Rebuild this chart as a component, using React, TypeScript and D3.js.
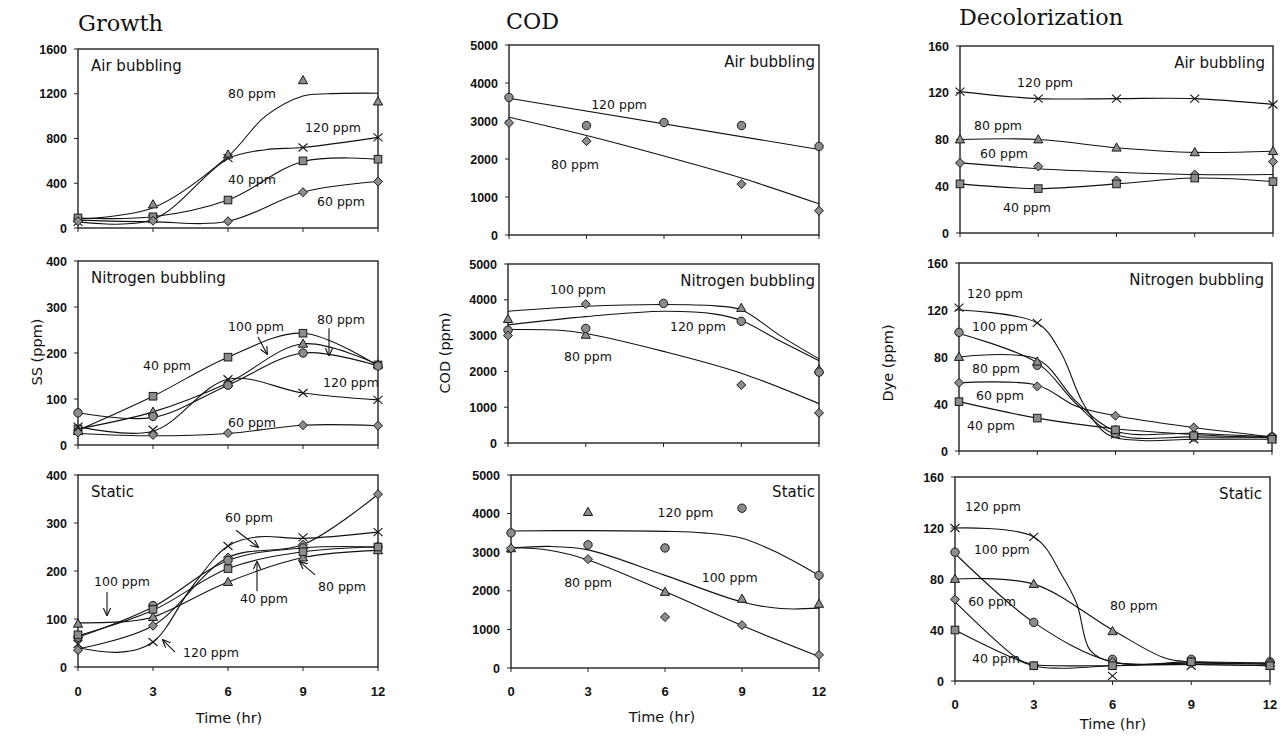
import React from 'react';
import * as d3 from 'd3';

type Pt = [number, number];
type Mk = 'tri' | 'sq' | 'dia' | 'circ' | 'x';
interface Series { marker: Mk; points: (number | null)[]; curve: Pt[] }
interface Label { text: string; t: number; v: number }
interface Arrow { from: Pt; to: Pt }

// ---------- shared categories / ticks ----------
const times = [0, 3, 6, 9, 12];
const xTickLabels = ['0', '3', '6', '9', '12'];
const ssAirTicks = [0, 400, 800, 1200, 1600];
const ssTicks = [0, 100, 200, 300, 400];
const codTicks = [0, 1000, 2000, 3000, 4000, 5000];
const dyeTicks = [0, 40, 80, 120, 160];
const columnTitles = ['Growth', 'COD', 'Decolorization'];
const yAxisTitles = ['SS (ppm)', 'COD (ppm)', 'Dye (ppm)'];
const conditions = ['Air bubbling', 'Nitrogen bubbling', 'Static'];
const xAxisTitle = 'Time (hr)';

// ---------- Growth (SS) ----------
const growthAir: Series[] = [
  { marker: 'tri', points: [85, 210, 655, 1320, 1130], curve: [[0, 80], [3, 180], [6, 640], [7.5, 1000], [9, 1180], [10, 1200], [12, 1205]] },
  { marker: 'x', points: [55, 80, 625, 720, 810], curve: [[0, 55], [3, 75], [6, 620], [7.5, 700], [9, 720], [12, 810]] },
  { marker: 'sq', points: [90, 100, 250, 600, 615], curve: [[0, 90], [3, 100], [6, 250], [9, 595], [12, 615]] },
  { marker: 'dia', points: [60, 65, 60, 320, 415], curve: [[0, 70], [3, 55], [6, 60], [9, 320], [12, 415]] },
];
const growthAirLabels: Label[] = [
  { text: '80 ppm', t: 6.0, v: 1162 },
  { text: '120 ppm', t: 9.08, v: 858 },
  { text: '40 ppm', t: 6.0, v: 393 },
  { text: '60 ppm', t: 9.56, v: 197 },
];

const growthN2: Series[] = [
  { marker: 'sq', points: [35, 106, 191, 243, 174], curve: [[0, 32], [3, 106], [6, 191], [9, 243], [12, 172]] },
  { marker: 'tri', points: [30, 72, 135, 220, 175], curve: [[0, 35], [3, 72], [6, 135], [9, 220], [12, 175]] },
  { marker: 'circ', points: [70, 62, 130, 200, 172], curve: [[0, 70], [3, 60], [6, 130], [9, 200], [12, 172]] },
  { marker: 'x', points: [40, 33, 143, 113, 98], curve: [[0, 40], [3, 30], [6, 143], [9, 113], [12, 98]] },
  { marker: 'dia', points: [27, 22, 26, 43, 42], curve: [[0, 25], [3, 20], [6, 25], [9, 43], [12, 42]] },
];
const growthN2Labels: Label[] = [
  { text: '100 ppm', t: 6.0, v: 248 },
  { text: '80 ppm', t: 9.56, v: 263 },
  { text: '40 ppm', t: 2.6, v: 163 },
  { text: '120 ppm', t: 9.8, v: 126 },
  { text: '60 ppm', t: 6.0, v: 39 },
];
const growthN2Arrows: Arrow[] = [
  { from: [7.2, 235], to: [7.56, 198] },
  { from: [10.04, 254], to: [10.04, 195] },
];

const growthStatic: Series[] = [
  { marker: 'x', points: [48, 52, 252, 270, 281], curve: [[0, 40], [1.7, 31], [3, 52], [4.6, 170], [6, 252], [7.2, 271], [9, 268], [12, 281]] },
  { marker: 'dia', points: [35, 86, 228, 255, 360], curve: [[0, 38], [3, 86], [6, 228], [9, 255], [12, 360]] },
  { marker: 'circ', points: [62, 128, 222, 248, 250], curve: [[0, 62], [3, 125], [6, 222], [9, 248], [12, 250]] },
  { marker: 'tri', points: [90, 104, 177, 228, 243], curve: [[0, 92], [2, 95], [3, 104], [6, 177], [9, 228], [12, 243]] },
  { marker: 'sq', points: [67, 120, 205, 240, 250], curve: [[0, 65], [3, 118], [6, 205], [9, 240], [12, 250]] },
];
const growthStaticLabels: Label[] = [
  { text: '60 ppm', t: 5.88, v: 302 },
  { text: '100 ppm', t: 0.64, v: 169 },
  { text: '40 ppm', t: 6.48, v: 133 },
  { text: '80 ppm', t: 9.6, v: 158 },
  { text: '120 ppm', t: 4.2, v: 21 },
];
const growthStaticArrows: Arrow[] = [
  { from: [6.32, 285], to: [7.2, 250] },
  { from: [1.16, 156], to: [1.16, 108] },
  { from: [7.16, 158], to: [7.16, 219] },
  { from: [9.48, 192], to: [8.88, 219] },
  { from: [3.88, 31], to: [3.4, 56] },
];

// ---------- COD ----------
const codAir: Series[] = [
  { marker: 'circ', points: [3620, 2880, 2960, 2880, 2330], curve: [[0, 3600], [12, 2250]] },
  { marker: 'dia', points: [2950, 2470, null, 1340, 640], curve: [[0, 3100], [3, 2620], [6, 2080], [9, 1500], [12, 820]] },
];
const codAirLabels: Label[] = [
  { text: '120 ppm', t: 3.18, v: 3316 },
  { text: '80 ppm', t: 1.63, v: 1737 },
];

const codN2: Series[] = [
  { marker: 'tri', points: [3460, 3020, null, 3770, 2050], curve: [[0, 3680], [3, 3820], [6, 3870], [8, 3830], [9, 3720], [10.5, 3000], [12, 2350]] },
  { marker: 'circ', points: [3150, 3200, 3900, 3400, 1980], curve: [[0, 3300], [3, 3530], [6, 3680], [8, 3600], [9, 3420], [10.5, 2850], [12, 2300]] },
  { marker: 'dia', points: [3000, 3880, null, 1620, 840], curve: [[0, 3170], [2, 3150], [3, 3060], [6, 2560], [9, 1950], [12, 1100]] },
];
const codN2Labels: Label[] = [
  { text: '100 ppm', t: 1.62, v: 4160 },
  { text: '120 ppm', t: 6.25, v: 3128 },
  { text: '80 ppm', t: 2.16, v: 2290 },
];

const codStatic: Series[] = [
  { marker: 'circ', points: [3500, 3190, 3110, 4140, 2400], curve: [[0, 3550], [3, 3560], [6, 3540], [7.5, 3500], [9, 3360], [10.5, 2950], [12, 2400]] },
  { marker: 'tri', points: [3100, 4040, 1970, 1790, 1660], curve: [[0, 3100], [1.5, 3150], [3, 3060], [6, 2400], [9, 1710], [10.5, 1540], [12, 1550]] },
  { marker: 'dia', points: [3100, 2820, 1320, 1110, 340], curve: [[0, 3120], [1.5, 3050], [3, 2800], [6, 1980], [9, 1100], [12, 300]] },
];
const codStaticLabels: Label[] = [
  { text: '120 ppm', t: 5.71, v: 3912 },
  { text: '80 ppm', t: 2.07, v: 2098 },
  { text: '100 ppm', t: 7.43, v: 2228 },
];

// ---------- Decolorization (Dye) ----------
const dyeAir: Series[] = [
  { marker: 'x', points: [121, 115, 115, 115, 110], curve: [[0, 121], [3, 115], [6, 115], [9, 115], [12, 110]] },
  { marker: 'tri', points: [80, 80, 73, 69, 70], curve: [[0, 80], [3, 80], [6, 73], [9, 69], [12, 70]] },
  { marker: 'dia', points: [60, 57, 45, 50, 61], curve: [[0, 60], [3, 55], [6, 52], [9, 50], [12, 50]] },
  { marker: 'sq', points: [42, 38, 42, 47, 44], curve: [[0, 42], [3, 38], [6, 42], [9, 47], [12, 44]] },
];
const dyeAirLabels: Label[] = [
  { text: '120 ppm', t: 2.19, v: 125 },
  { text: '80 ppm', t: 0.54, v: 88 },
  { text: '60 ppm', t: 0.77, v: 64 },
  { text: '40 ppm', t: 1.65, v: 18 },
];

const dyeN2: Series[] = [
  { marker: 'x', points: [122, 109, 14, 10, 10], curve: [[0, 120], [3, 109], [3.9, 84], [4.75, 41], [5.7, 14], [7, 9], [9, 10], [12, 10]] },
  { marker: 'circ', points: [101, 73, 15, 12, 12], curve: [[0, 100], [3, 75], [4.5, 40], [6, 14], [9, 12], [12, 12]] },
  { marker: 'tri', points: [80, 76, 18, 15, 12], curve: [[0, 80], [3, 78], [4.5, 42], [6, 17], [9, 15], [12, 12]] },
  { marker: 'dia', points: [58, 55, 30, 20, 12], curve: [[0, 58], [3, 56], [4.5, 38], [6, 30], [9, 20], [12, 12]] },
  { marker: 'sq', points: [42, 28, 18, 13, 10], curve: [[0, 42], [3, 28], [6, 19], [9, 14], [12, 11]] },
];
const dyeN2Labels: Label[] = [
  { text: '120 ppm', t: 0.31, v: 130 },
  { text: '100 ppm', t: 0.5, v: 102 },
  { text: '80 ppm', t: 0.5, v: 66 },
  { text: '60 ppm', t: 0.65, v: 43 },
  { text: '40 ppm', t: 0.31, v: 18 },
];

const dyeStatic: Series[] = [
  { marker: 'x', points: [120, 113, 4, 12, 12], curve: [[0, 120], [3, 113], [4.1, 82], [4.65, 60], [5.15, 24], [6, 15], [9, 13], [12, 12]] },
  { marker: 'circ', points: [101, 46, 17, 17, 15], curve: [[0, 100], [3, 46], [6, 15], [9, 15], [12, 14]] },
  { marker: 'tri', points: [80, 76, 39, 15, 14], curve: [[0, 80], [3, 76], [6, 40], [8, 18], [9, 15], [12, 14]] },
  { marker: 'dia', points: [64, 12, 15, 14, 14], curve: [[0, 62], [2.5, 16], [3, 13], [6, 12], [9, 13], [12, 12]] },
  { marker: 'sq', points: [40, 12, 12, 15, 12], curve: [[0, 40], [3, 12], [4, 10], [6, 12], [9, 14], [12, 13]] },
];
const dyeStaticLabels: Label[] = [
  { text: '120 ppm', t: 0.38, v: 133 },
  { text: '100 ppm', t: 0.72, v: 100 },
  { text: '60 ppm', t: 0.5, v: 59 },
  { text: '80 ppm', t: 5.9, v: 56 },
  { text: '40 ppm', t: 0.65, v: 14 },
];

// ---------- layout ----------
interface PanelCfg {
  col: number; row: number;
  left: number; right: number; top: number; bottom: number;
  ticks: number[]; series: Series[]; labels: Label[]; arrows: Arrow[];
}
const panels: PanelCfg[] = [
  { col: 0, row: 0, left: 78, right: 378, top: 49, bottom: 228, ticks: ssAirTicks, series: growthAir, labels: growthAirLabels, arrows: [] },
  { col: 0, row: 1, left: 78, right: 378, top: 261, bottom: 445, ticks: ssTicks, series: growthN2, labels: growthN2Labels, arrows: growthN2Arrows },
  { col: 0, row: 2, left: 78, right: 378, top: 475, bottom: 667, ticks: ssTicks, series: growthStatic, labels: growthStaticLabels, arrows: growthStaticArrows },
  { col: 1, row: 0, left: 509, right: 819, top: 45, bottom: 235, ticks: codTicks, series: codAir, labels: codAirLabels, arrows: [] },
  { col: 1, row: 1, left: 508, right: 819, top: 264, bottom: 443, ticks: codTicks, series: codN2, labels: codN2Labels, arrows: [] },
  { col: 1, row: 2, left: 511, right: 819, top: 475, bottom: 668, ticks: codTicks, series: codStatic, labels: codStaticLabels, arrows: [] },
  { col: 2, row: 0, left: 960, right: 1273, top: 46, bottom: 233, ticks: dyeTicks, series: dyeAir, labels: dyeAirLabels, arrows: [] },
  { col: 2, row: 1, left: 959, right: 1272, top: 263, bottom: 451, ticks: dyeTicks, series: dyeN2, labels: dyeN2Labels, arrows: [] },
  { col: 2, row: 2, left: 955, right: 1270, top: 477, bottom: 681, ticks: dyeTicks, series: dyeStatic, labels: dyeStaticLabels, arrows: [] },
];
const titlePos = [
  { x: 78, y: 31, w: 85 },
  { x: 506, y: 29, w: 53 },
  { x: 959, y: 25, w: 164 },
];
const yTitlePos = [
  { x: 38, y: 352 },
  { x: 446, y: 353 },
  { x: 889, y: 363 },
];
const xLabelBase = [696, 696, 709];
const xTitlePos = [
  { x: 229, y: 723 },
  { x: 662, y: 722 },
  { x: 1113, y: 729 },
];

const SANS = '"DejaVu Sans", Verdana, sans-serif';
const TICKFONT = '"Liberation Sans", Arial, sans-serif';
const SERIF = '"DejaVu Serif", "Liberation Serif", serif';
const MFILL = '#8c8c8c';
const MSTROKE = '#1a1a1a';

function Marker({ type, cx, cy }: { type: Mk; cx: number; cy: number }) {
  if (type === 'tri') {
    return <path d={`M${cx},${cy - 4.8}L${cx + 4.6},${cy + 3.4}L${cx - 4.6},${cy + 3.4}Z`} fill={MFILL} stroke={MSTROKE} strokeWidth={1} />;
  }
  if (type === 'sq') {
    return <rect x={cx - 3.8} y={cy - 3.8} width={7.6} height={7.6} fill={MFILL} stroke={MSTROKE} strokeWidth={1} />;
  }
  if (type === 'dia') {
    return <path d={`M${cx},${cy - 4.5}L${cx + 4.5},${cy}L${cx},${cy + 4.5}L${cx - 4.5},${cy}Z`} fill={MFILL} stroke={MSTROKE} strokeWidth={1} />;
  }
  if (type === 'circ') {
    return <circle cx={cx} cy={cy} r={4.2} fill={MFILL} stroke={MSTROKE} strokeWidth={1} />;
  }
  return (
    <g stroke={MSTROKE} strokeWidth={1.2}>
      <line x1={cx - 4.5} y1={cy - 4} x2={cx + 4.5} y2={cy + 4} />
      <line x1={cx - 4.5} y1={cy + 4} x2={cx + 4.5} y2={cy - 4} />
    </g>
  );
}

function Panel({ p }: { p: PanelCfg }) {
  const ymax = p.ticks[p.ticks.length - 1];
  const x = d3.scaleLinear().domain([0, 12]).range([p.left, p.right]);
  const y = d3.scaleLinear().domain([0, ymax]).range([p.bottom, p.top]);
  const line = d3.line<Pt>().x((d) => x(d[0])).y((d) => y(d[1])).curve(d3.curveCatmullRom.alpha(0.5));
  const rightAligned = p.col > 0;
  return (
    <g>
      <rect x={p.left} y={p.top} width={p.right - p.left} height={p.bottom - p.top} fill="none" stroke="#222" strokeWidth={1.4} />
      {p.ticks.map((t) => (
        <g key={'yt' + t}>
          <line x1={p.left - 4} x2={p.left} y1={y(t)} y2={y(t)} stroke="#222" strokeWidth={1} />
          <text x={p.left - 11} y={y(t) + 4.5} textAnchor="end" fontFamily={TICKFONT} fontSize={12.5} fontWeight="bold" fill="#111">{t}</text>
        </g>
      ))}
      {times.map((t, i) => (
        <g key={'xt' + t}>
          <line x1={x(t)} x2={x(t)} y1={p.bottom} y2={p.bottom + 4} stroke="#222" strokeWidth={1} />
          {p.row === 2 && (
            <text x={x(t)} y={xLabelBase[p.col]} textAnchor="middle" fontFamily={TICKFONT} fontSize={13} fontWeight="bold" fill="#111">{xTickLabels[i]}</text>
          )}
        </g>
      ))}
      {p.series.map((s, i) => (
        <path key={'l' + i} d={line(s.curve) || ''} fill="none" stroke="#111" strokeWidth={1.1} />
      ))}
      {p.series.map((s, i) => (
        <g key={'m' + i}>
          {s.points.map((v, j) => (v === null ? null : <Marker key={j} type={s.marker} cx={x(times[j])} cy={y(v)} />))}
        </g>
      ))}
      {p.labels.map((l, i) => (
        <text key={'lb' + i} x={x(l.t)} y={y(l.v)} fontFamily={SANS} fontSize={12.5} fill="#111">{l.text}</text>
      ))}
      {p.arrows.map((a, i) => (
        <line key={'ar' + i} x1={x(a.from[0])} y1={y(a.from[1])} x2={x(a.to[0])} y2={y(a.to[1])} stroke="#111" strokeWidth={1.1} markerEnd="url(#arrowhead)" />
      ))}
      <text
        x={rightAligned ? p.right - (p.col === 1 ? 4 : 8) : p.left + 13}
        y={p.top + 22}
        textAnchor={rightAligned ? 'end' : 'start'}
        fontFamily={SANS}
        fontSize={15}
        fill="#111"
      >
        {conditions[p.row]}
      </text>
    </g>
  );
}

export default function App() {
  return (
    <svg width={1285} height={737} style={{ position: 'absolute', left: 0, top: 0, background: '#fff' }}>
      <defs>
        <marker id="arrowhead" viewBox="0 0 10 10" refX="9" refY="5" markerWidth="8" markerHeight="8" markerUnits="userSpaceOnUse" orient="auto">
          <path d="M0,0.5L10,5L0,9.5" fill="none" stroke="#111" strokeWidth={1.4} />
        </marker>
      </defs>
      <rect x={0} y={0} width={1285} height={737} fill="#fff" />
      {columnTitles.map((t, i) => (
        <text key={t} x={titlePos[i].x} y={titlePos[i].y} fontFamily={SERIF} fontSize={22} textLength={titlePos[i].w} lengthAdjust="spacingAndGlyphs" fill="#111">{t}</text>
      ))}
      {yAxisTitles.map((t, i) => (
        <text key={t} transform={`translate(${yTitlePos[i].x},${yTitlePos[i].y}) rotate(-90)`} textAnchor="middle" dominantBaseline="middle" fontFamily={SANS} fontSize={14.5} fill="#111">{t}</text>
      ))}
      {xTitlePos.map((pos, i) => (
        <text key={'xt' + i} x={pos.x} y={pos.y} textAnchor="middle" fontFamily={SANS} fontSize={14.5} fill="#111">{xAxisTitle}</text>
      ))}
      {panels.map((p, i) => <Panel key={i} p={p} />)}
    </svg>
  );
}
